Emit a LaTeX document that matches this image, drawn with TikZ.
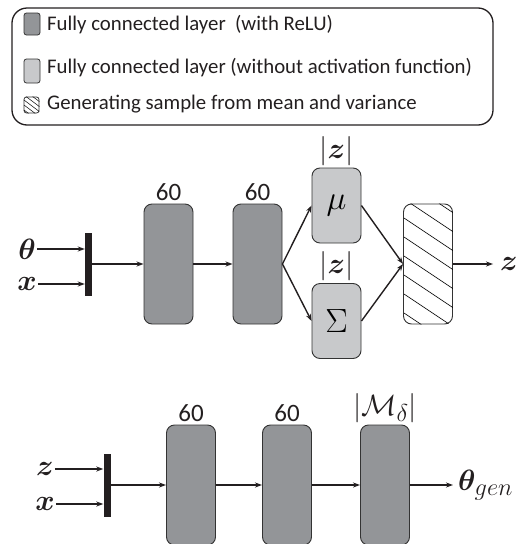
\documentclass[tikz,border=0pt]{standalone}
\usepackage{amsmath,amssymb,bm}
\usepackage{fontspec}
\setmainfont{Carlito}
\usetikzlibrary{positioning,arrows.meta}

\definecolor{fcdark}{HTML}{939598}
\definecolor{fclight}{HTML}{C8C9CB}
\definecolor{edge}{HTML}{333333}
\definecolor{ink}{HTML}{231F20}

\newcommand{\mbig}[1]{\scalebox{1.18}{$#1$}}
\newcommand{\mhuge}[1]{\scalebox{1.35}{$#1$}}

\tikzset{
  layer/.style={draw=edge, line width=0.9pt, rounded corners=8pt, minimum width=49pt, minimum height=120pt, inner sep=0pt},
  relu/.style={layer, fill=fcdark},
  linear/.style={layer, fill=fclight, minimum height=75pt, font=\fontsize{24.88}{30}\selectfont},
  sampler/.style={layer, fill=white},
  concat/.style={fill=ink, minimum width=7pt, minimum height=63pt, inner sep=0pt},
  flow/.style={-{Stealth[length=7pt,width=5pt]}, line width=1.4pt, ink},
  dims/.style={font=\fontsize{25}{30}\selectfont, text=ink, inner sep=1pt},
  card/.style={font=\fontsize{24.88}{30}\selectfont, text=ink, inner sep=1pt},
  var/.style={font=\fontsize{24.88}{30}\selectfont, text=ink, inner sep=1pt},
  legtext/.style={anchor=base west, font=\fontsize{20.8}{24}\selectfont, text=ink, inner sep=0pt},
  legicon/.style={draw=edge, line width=0.8pt, rounded corners=2.5pt, inner sep=0pt}
}

\begin{document}
\begin{tikzpicture}[x=1pt, y=-1pt]
  \useasboundingbox (0,0) rectangle (522,544);

  % legend
  \draw[ink, line width=1.3pt, rounded corners=15pt] (12,8) rectangle (493,125);
  \node (icondark) [legicon, fill=fcdark, minimum width=16pt, minimum height=22pt] at (32,24) {};
  \node (iconlight) [legicon, fill=fclight, minimum width=16pt, minimum height=24pt] at (32,71) {};
  \node (iconhatch) [legicon, minimum width=15pt, minimum height=16pt] at (31.5,105) {};
  \begin{scope}
    \clip[rounded corners=2.5pt] (iconhatch.north west) rectangle (iconhatch.south east);
    \foreach \k in {-2,...,3}
      \draw[line width=0.5pt] (24,100+5*\k) -- ++(16,12);
  \end{scope}
  \node (legrelu) [legtext] at (47,30) {Fully connected layer\ \ (with ReLU)};
  \node (leglin) [legtext] at (47,73) {Fully connected layer (without activation function)};
  \node (legsamp) [legtext] at (47,109) {Generating sample from mean and variance};

  % encoder
  \node (enccat) [concat] at (88.5,264) {};
  \node (theta) [var] at (27,249) {\mbig{\bm{\theta}}};
  \node (xin) [var] at (27,284) {\mbig{\bm{x}}};
  \node (enc1) [relu] at (168.5,264) {};
  \node (enc2) [relu] at (257.5,264) {};
  \node (mu) [linear] at (336.5,205.5) {\mhuge{\mu}};
  \node (sigma) [linear] at (336.5,321) {\mhuge{\Sigma}};
  \node (samp) [sampler] at (428,264) {};
  \node (zout) [var] at (509,264) {\mbig{\bm{z}}};
  \begin{scope}
    \clip[rounded corners=8pt] (samp.north west) rectangle (samp.south east);
    \foreach \k in {-4,...,6}
      \draw[line width=0.6pt] (404,218+19*\k) -- ++(60,40);
  \end{scope}
  \node [dims, above=2pt of enc1] {60};
  \node [dims, above=2pt of enc2] {60};
  \node [card, above=1pt of mu] {\mbig{|\bm{z}|}};
  \node [card, above=1pt of sigma] {\mbig{|\bm{z}|}};

  \draw[flow] (theta.east) -- (theta.east -| enccat.west);
  \draw[flow] (xin.east) -- (xin.east -| enccat.west);
  \draw[flow] (enccat.east) -- (enc1.west);
  \draw[flow] (enc1.east) -- (enc2.west);
  \draw[flow] (enc2.east) -- (mu.west);
  \draw[flow] (enc2.east) -- (sigma.west);
  \draw[flow] (mu.east) -- (samp.west);
  \draw[flow] (sigma.east) -- (samp.west);
  \draw[flow, shorten >=6pt] (samp.east) -- (zout.west);

  % decoder
  \node (deccat) [concat] at (107,485) {};
  \node (zin) [var] at (45,469) {\mbig{\bm{z}}};
  \node (xdec) [var] at (45,504) {\mbig{\bm{x}}};
  \node (dec1) [relu] at (191,485) {};
  \node (dec2) [relu] at (287,485) {};
  \node (dec3) [relu] at (385,485) {};
  \node (thetagen) [var, anchor=west] at (457,485) {\mbig{\bm{\theta}_{gen}}};
  \node [dims, above=2pt of dec1] {60};
  \node [dims, above=2pt of dec2] {60};
  \node [card, above=1pt of dec3] {\mbig{|\mathcal{M}_{\delta}|}};

  \draw[flow] (zin.east) -- (zin.east -| deccat.west);
  \draw[flow] (xdec.east) -- (xdec.east -| deccat.west);
  \draw[flow] (deccat.east) -- (dec1.west);
  \draw[flow] (dec1.east) -- (dec2.west);
  \draw[flow] (dec2.east) -- (dec3.west);
  \draw[flow, shorten >=4pt] (dec3.east) -- (thetagen.west);
\end{tikzpicture}
\end{document}
